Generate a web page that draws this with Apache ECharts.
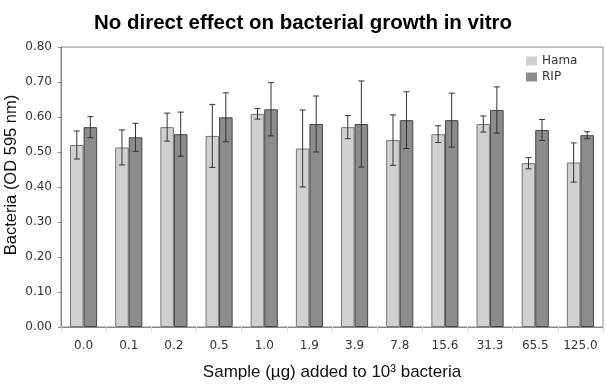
<!DOCTYPE html>
<html><head><meta charset="utf-8">
<script src="https://cdn.jsdelivr.net/npm/echarts@6/dist/echarts.min.js"></script>
<style>html,body{margin:0;padding:0;background:#fff}#c{width:606px;height:384px}</style>
</head><body><div id="c"></div>
<script>
const categories = ['0.0','0.1','0.2','0.5','1.0','1.9','3.9','7.8','15.6','31.3','65.5','125.0'];
const hama    = [0.52, 0.513, 0.571, 0.546, 0.609, 0.51, 0.571, 0.534, 0.551, 0.58, 0.468, 0.47];
const hamaErr = [0.04, 0.05, 0.04, 0.09, 0.015, 0.11, 0.033, 0.072, 0.024, 0.023, 0.016, 0.056];
const rip     = [0.571, 0.542, 0.551, 0.599, 0.622, 0.58, 0.58, 0.591, 0.591, 0.62, 0.563, 0.548];
const ripErr  = [0.03, 0.04, 0.063, 0.07, 0.076, 0.08, 0.123, 0.081, 0.077, 0.066, 0.03, 0.01];
const yTicks = [0, 0.1, 0.2, 0.3, 0.4, 0.5, 0.6, 0.7, 0.8];

const chart = echarts.init(document.getElementById('c'));
const BAR_FRAC = 0.3;

function errSeries(vals, errs, side) {
  return {
    type: 'custom',
    z: 10,
    silent: true,
    data: vals.map((v, i) => [i, v, errs[i]]),
    renderItem: function (params, api) {
      const i = api.value(0), v = api.value(1), e = api.value(2);
      const band = api.size([1, 0])[0];
      const c = api.coord([i, v]);
      const x = c[0] + side * band * BAR_FRAC / 2;
      const top = api.coord([i, v + e])[1];
      const bot = api.coord([i, v - e])[1];
      const cap = 3;
      const st = { stroke: '#333', lineWidth: 1 };
      return { type: 'group', children: [
        { type: 'line', shape: { x1: x, y1: top, x2: x, y2: bot }, style: st },
        { type: 'line', shape: { x1: x - cap, y1: top, x2: x + cap, y2: top }, style: st },
        { type: 'line', shape: { x1: x - cap, y1: bot, x2: x + cap, y2: bot }, style: st }
      ]};
    }
  };
}

chart.setOption({
  animation: false,
  title: {
    text: 'No direct effect on bacterial growth in vitro',
    left: 'center', top: 8,
    textStyle: { fontFamily: 'Liberation Sans', fontWeight: 'bold', fontSize: 20.5, color: '#000' }
  },
  legend: {
    orient: 'vertical', left: 521, top: 50, itemWidth: 11, itemHeight: 9, itemGap: 4,
    icon: 'rect',
    itemStyle: { borderWidth: 0 },
    textStyle: { fontFamily: 'DejaVu Sans', fontSize: 12, color: '#333' },
    data: ['Hama', 'RIP']
  },
  grid: { left: 61, right: 3, top: 47, bottom: 57, show: true, borderColor: '#888', borderWidth: 1,
    containLabel: false, outerBoundsMode: 'none' },
  xAxis: {
    type: 'category', data: categories,
    name: 'Sample (µg) added to 10³ bacteria', nameLocation: 'middle', nameGap: 37,
    nameTextStyle: { fontFamily: 'Liberation Sans', fontSize: 17, color: '#111' },
    axisLine: { lineStyle: { color: '#888' } },
    axisTick: { show: true, lineStyle: { color: '#ddd' } },
    axisLabel: { fontFamily: 'DejaVu Sans', fontSize: 12, color: '#333', margin: 13 }
  },
  yAxis: {
    type: 'value', min: 0, max: 0.8, interval: 0.1,
    name: 'Bacteria (OD 595 nm)', nameLocation: 'middle', nameGap: 41, nameRotate: 90,
    nameMoveOverlap: false,
    nameTextStyle: { fontFamily: 'Liberation Sans', fontSize: 16.5, color: '#111', padding: [0, 0, 0, 24] },
    axisLine: { show: true, lineStyle: { color: '#888' } },
    axisTick: { show: true, length: 3, lineStyle: { color: '#888' } },
    splitLine: { show: false },
    axisLabel: { fontFamily: 'DejaVu Sans', fontSize: 12, color: '#333', margin: 9,
      formatter: v => v.toFixed(2) }
  },
  series: [
    { name: 'Hama', type: 'bar', data: hama, barWidth: '30%', barGap: '0%',
      itemStyle: { color: '#d0d0d0', borderColor: '#777', borderWidth: 1 } },
    { name: 'RIP', type: 'bar', data: rip, barWidth: '30%', barGap: '0%',
      itemStyle: { color: '#8c8c8c', borderColor: '#444', borderWidth: 1 } },
    errSeries(hama, hamaErr, -1),
    errSeries(rip, ripErr, 1)
  ]
});
</script></body></html>
